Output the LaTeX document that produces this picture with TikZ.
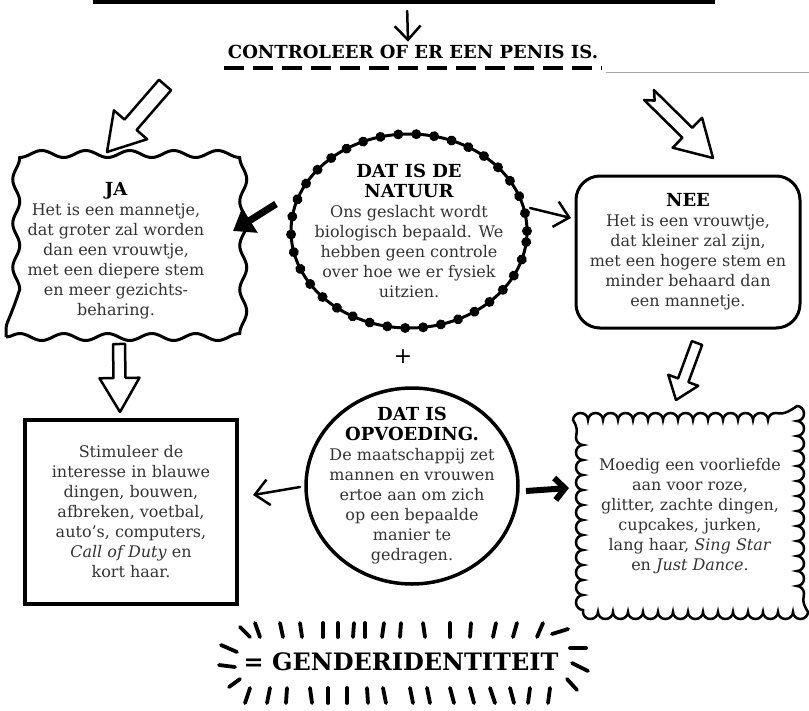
\documentclass[tikz,border=0pt]{standalone}
\usepackage{fontspec}
\setmainfont{DejaVu Serif}
\usetikzlibrary{arrows.meta,calc,shapes.geometric,decorations.pathmorphing,decorations.markings}

\newcommand{\kop}[1]{{\fontsize{18}{20}\selectfont\bfseries\color{black}#1}}

% hollow block arrow: tail, tip, half shaft, half head, head length, notch
\newcommand{\blockarrow}[6]{%
  \draw[hollow] let \p1=($(#2)-(#1)$), \n1={atan2(\y1,\x1)}, \n2={veclen(\x1,\y1)} in
    {[shift={(#1)}, rotate=\n1]
      (0pt,#3) -- ({\n2*1pt-#5},#3) -- ({\n2*1pt-#5},#4) -- ({\n2*1pt},0pt)
      -- ({\n2*1pt-#5},-#4) -- ({\n2*1pt-#5},-#3) -- (0pt,-#3) -- (#6,0pt) -- cycle};}

\tikzset{
  txt/.style={align=center, text=black!80, font=\fontsize{16}{20}\selectfont},
  wolk/.style={draw, line width=3pt, decorate,
    decoration={snake, segment length=44pt, amplitude=3.5pt}},
  schulp/.style={draw, line width=2.5pt, decorate,
    decoration={bumps, mirror, segment length=30pt, amplitude=7pt}},
  kralen/.style={ellipse, draw, line width=3pt, inner xsep=-25pt, inner ysep=-20pt,
    postaction={decorate, decoration={markings,
      mark=between positions 0 and 1 step 18pt with {\fill (0,0) circle (5pt);}}}},
  hollow/.style={draw, line width=2.5pt, line join=round, fill=white},
  barb/.style={line width=2.5pt, line cap=round, -{Straight Barb[length=14pt, width=26pt]}},
  fatbarb/.style={line width=6pt, -{Straight Barb[length=10pt, width=22pt]}},
  fat/.style={line width=7pt, -{Triangle[length=20pt, width=28pt]}},
  ray/.style={line width=3.8pt, line cap=round},
}

\begin{document}
\begin{tikzpicture}[x=1pt, y=-1pt]
  \useasboundingbox (0,0) rectangle (809,710);

  \node[draw, line width=4pt, minimum width=618pt, minimum height=60pt] (vorige) at (404,-28) {};
  \node[font=\fontsize{18}{20}\selectfont\bfseries] (vraag) at (413,52) {CONTROLEER OF ER EEN PENIS IS.};
  \draw[line width=4pt, dash pattern=on 20pt off 9pt]
    ([yshift=-6pt]vraag.south west) -- ([yshift=-6pt]vraag.south east);
  \draw[black!35, line width=1pt] (606,72) -- (809,72);
  \draw[barb, shorten <=7pt] ([xshift=3pt]vorige.south) -- ([xshift=-5pt]vraag.north);

  \node[wolk, txt, minimum width=220pt, minimum height=172pt] (ja) at (116,251)
    {\kop{JA}\\Het is een mannetje,\\dat groter zal worden\\dan een vrouwtje,\\met een diepere stem\\en meer gezichts-\\beharing.};
  \node[kralen, txt, minimum width=236pt, minimum height=194pt] (natuur) at (409,231)
    {\kop{DAT IS DE}\\\kop{NATUUR}\\Ons geslacht wordt\\biologisch bepaald. We\\hebben geen controle\\over hoe we er fysiek\\uitzien.};
  \node[draw, txt, line width=3pt, rounded corners=24pt, minimum width=224pt, minimum height=152pt] (nee) at (688,252)
    {\kop{NEE}\\Het is een vrouwtje,\\dat kleiner zal zijn,\\met een hogere stem en\\minder behaard dan\\een mannetje.};

  \node[font=\fontsize{22}{22}\selectfont] (plus) at (403,357) {+};

  \node[ellipse, draw, txt, line width=3.5pt, inner xsep=-25pt, inner ysep=-20pt,
    minimum width=212pt, minimum height=196pt] (opvoeding) at (412,486)
    {\kop{DAT IS}\\\kop{OPVOEDING.}\\De maatschappij zet\\mannen en vrouwen\\ertoe aan om zich\\op een bepaalde\\manier te\\gedragen.};
  \node[draw, txt, line width=3.5pt, minimum width=212pt, minimum height=184pt] (blauw) at (131,512)
    {Stimuleer de\\interesse in blauwe\\dingen, bouwen,\\afbreken, voetbal,\\auto’s, computers,\\\textit{Call of Duty} en\\kort haar.};
  \node[schulp, txt, minimum width=214pt, minimum height=192pt] (roze) at (690,516)
    {Moedig een voorliefde\\aan voor roze,\\glitter, zachte dingen,\\cupcakes, jurken,\\lang haar, \textit{Sing Star}\\en \textit{Just Dance}.};

  \node[font=\fontsize{24}{26}\selectfont\bfseries] (uitkomst) at (401,662) {= GENDERIDENTITEIT};

  \coordinate (jaStart) at (165,85);
  \coordinate (jaEind) at (107,152);
  \coordinate (neeStart) at (649,95);
  \coordinate (neeEind) at (713,158);
  \coordinate (blauwStart) at (119,344);
  \coordinate (blauwEind) at (120,412);
  \coordinate (rozeStart) at (697,343);
  \coordinate (rozeEind) at (676,400);
  \blockarrow{jaStart}{jaEind}{8pt}{22pt}{36pt}{0pt}
  \blockarrow{neeStart}{neeEind}{7pt}{21pt}{36pt}{8pt}
  \blockarrow{blauwStart}{blauwEind}{6pt}{20pt}{34pt}{0pt}
  \blockarrow{rozeStart}{rozeEind}{5.5pt}{16pt}{21pt}{0pt}

  \coordinate (n1) at (276,204);
  \coordinate (n2) at (233,231);
  \coordinate (n3) at (530,208);
  \coordinate (n4) at (571,218);
  \coordinate (o1) at (300,487);
  \coordinate (o2) at (253,495);
  \coordinate (o3) at (526,491);
  \coordinate (o4) at (569,488);
  \draw[fat] (n1) -- (n2);
  \draw[barb] (n3) -- (n4);
  \draw[barb] (o1) -- (o2);
  \draw[fatbarb] (o3) -- (o4);

  % rays round the result
  \foreach \x/\d in {260/-5,283/-3,302/-2,323/0,338/0,353/1,365/0,382/2,400/1,425/-2,450/0,470/1,493/3,513/4,537/6}
    \draw[ray] (\x,637) -- ++(\d,-14);
  \foreach \x/\d in {250/-5,270/-3,287/-1,310/2,328/0,347/0,367/1,383/3,410/3,427/3,450/4,470/4,490/5,510/4,530/-2,550/-2}
    \draw[ray] (\x,688) -- ++(\d,15);
  \draw[ray] (250,637) -- (240,627);
  \draw[ray] (237,652) -- (221,645);
  \draw[ray] (235,667) -- (219,665);
  \draw[ray] (240,679) -- (229,687);
  \draw[ray] (552,634) -- (568,629);
  \draw[ray] (570,648) -- (586,648);
  \draw[ray] (572,663) -- (588,671);
  \draw[ray] (567,679) -- (577,690);
\end{tikzpicture}
\end{document}
